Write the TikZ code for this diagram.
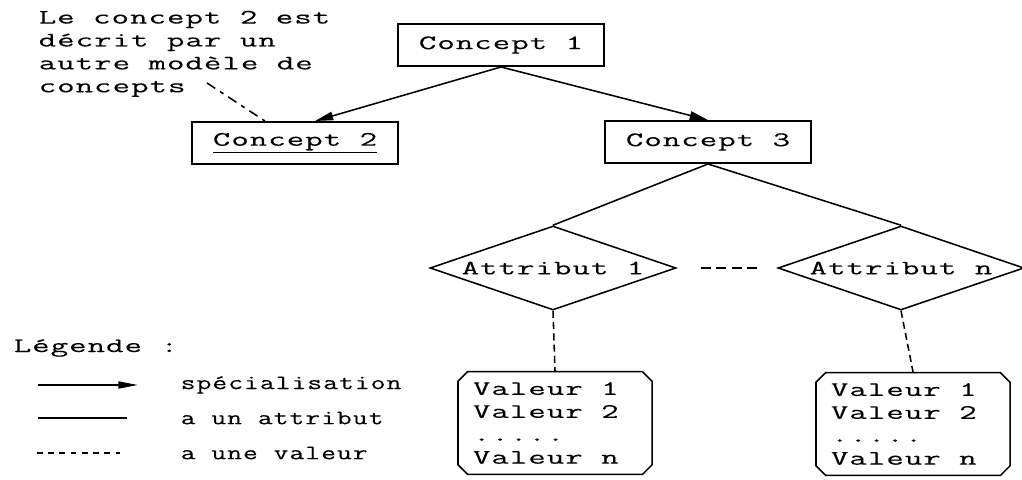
\documentclass[tikz,border=0pt]{standalone}
\usepackage{fontspec}
\setmainfont{Latin Modern Mono}[FakeStretch=1.65, LetterSpace=5, FakeBold=0.2]
\newfontfamily\legfont{Latin Modern Mono}[FakeStretch=1.4, LetterSpace=5, FakeBold=0.2]
\usetikzlibrary{shapes.geometric, shapes.misc, arrows}
\usetikzlibrary{positioning}
\usetikzlibrary{arrows.meta}
\tikzstyle{concept} = [rectangle, draw=black, minimum width=5.15cm, minimum height=1.06cm,
inner sep=0pt, text centered]
\tikzstyle{attr} = [diamond, draw=black, aspect=2.95, minimum width=6.15cm, minimum height=2.1cm,
inner sep=0pt]
\tikzstyle{vals} = [chamfered rectangle, chamfered rectangle xsep=0.12cm, chamfered rectangle
ysep=0.12cm, draw=black, align=flush left, text width=4.1cm, minimum width=4.85cm, minimum
height=2.57cm, inner xsep=0pt, inner ysep=0pt]
\tikzstyle{arrow} = [-{Triangle[length=13pt,width=6pt]}]

\begin{document}
\begin{tikzpicture}[x=0.025cm, y=-0.025cm, line width=1.1pt,
  font=\fontsize{14.6pt}{16.3pt}\selectfont]
  \tikzstyle{leg}=[anchor=west, inner sep=0pt, font=\fontsize{14.6pt}{16.3pt}\legfont]
  \useasboundingbox (0,0) rectangle (1022,480);

  \node (c1) [concept] at (501,45) {Concept 1};
  \node (c2) [concept] at (295,143) {\underline{Concept 2}};
  \node (c3) [concept] at (708,142) {Concept 3};
  \node (note) [anchor=north west, inner sep=0pt, align=left] at (38,10) {Le concept 2 est\\
    décrit par un\\autre modèle de\\concepts};
  \coordinate (notept) at (207,83);

  \node (a1) [attr] at (553,268) {Attribut 1};
  \node (an) [attr] at (901,268) {Attribut n};
  \node (v1) [vals] at (555,423) {Valeur 1\\Valeur 2\\.....\\Valeur n};
  \node (vn) [vals] at (913,424) {Valeur 1\\Valeur 2\\.....\\Valeur n};

  \draw[arrow] (c1.south) -- ([xshift=0.5cm]c2.north);
  \draw[arrow] (c1.south) -- (c3.north);
  \draw[dash pattern=on 7pt off 4pt on 3pt off 4pt] (notept) -- ([xshift=-0.75cm]c2.north);
  \draw (c3.south) -- (a1.north);
  \draw (c3.south) -- (an.north);
  \draw[dash pattern=on 7pt off 4pt] ([xshift=0.6cm]a1.east) -- ([xshift=-0.42cm]an.west);
  \draw[dash pattern=on 5pt off 3pt] (a1.south) -- (v1.north);
  \draw[dash pattern=on 5pt off 3pt] (an.south) -- (vn.north);

  % legende
  \node (leg) [anchor=west, inner sep=0pt] at (13,348) {Légende :};
  \node (l1) [leg] at (180,385) {spécialisation};
  \node (l2) [leg] at (180,418) {a un attribut};
  \node (l3) [leg] at (180,453) {a une valeur};
  \coordinate (s1) at (38,385);
  \coordinate (s2) at (38,418);
  \coordinate (s3) at (37,453);
  \draw[arrow, -{Triangle[length=14pt,width=5pt]}] (s1) -- ([xshift=-1.05cm]l1.west);
  \draw (s2) -- ([xshift=-1.325cm]l2.west);
  \draw[dash pattern=on 4pt off 4pt] (s3) -- ([xshift=-1.5cm]l3.west);
\end{tikzpicture}
\end{document}
